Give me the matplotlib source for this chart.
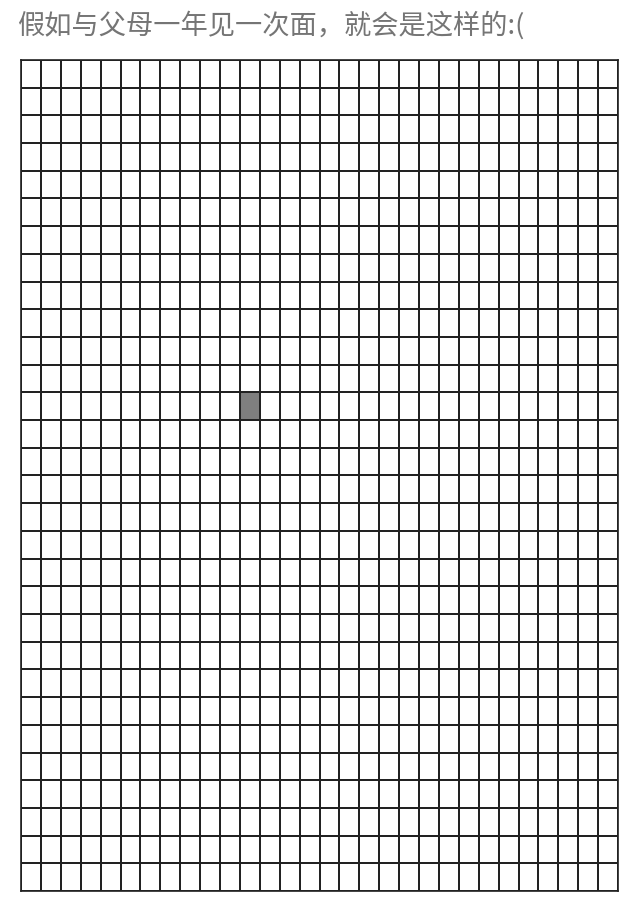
import numpy as np
import matplotlib
matplotlib.use('Agg')
import matplotlib.pyplot as plt

plt.rcParams['font.family'] = ['Noto Sans CJK SC', 'DejaVu Sans']

title = '假如与父母一年见一次面，就会是这样的:('
n_rows = 30
n_cols = 30
# cells already used up (row, col), counted from the top-left
filled_rows = [12]
filled_cols = [11]

grid = np.zeros((n_rows, n_cols))
for r, c in zip(filled_rows, filled_cols):
    grid[r, c] = 1

fig = plt.figure(figsize=(6.4, 8.97), dpi=100)
ax = fig.add_axes([21/640, 1 - 891/897, 597/640, 831/897])

cmap = matplotlib.colors.ListedColormap(['white', '#7f7f7f'])
ax.pcolormesh(grid, cmap=cmap, vmin=0, vmax=1,
              edgecolors='#222222', linewidth=1.2)
ax.set_xlim(0, n_cols)
ax.set_ylim(n_rows, 0)
ax.set_xticks([])
ax.set_yticks([])
for s in ax.spines.values():
    s.set_color('#222222')
    s.set_linewidth(1.2)

fig.text(17/640, 1 - 25/897, title, fontsize=19.6, color='#757575',
         va='center', ha='left')

fig.savefig('out.png', dpi=100)
